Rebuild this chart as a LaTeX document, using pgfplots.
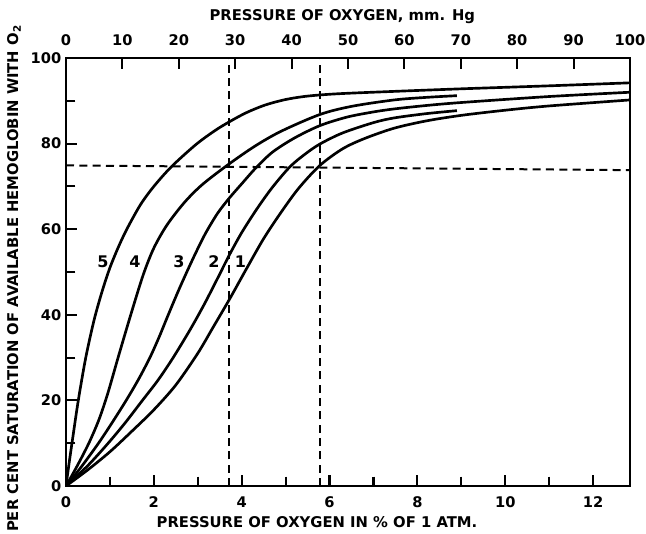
\documentclass[border=0pt]{standalone}
\usepackage{fontspec}
\setmainfont{DejaVu Sans}
\usepackage{pgfplots}
\pgfplotsset{compat=1.18}

\begin{document}
\begin{tikzpicture}
\begin{axis}[
    scale only axis, width=423pt, height=321pt,
    xmin=0, xmax=12.84, ymin=0, ymax=100,
    xtick={0,2,...,12}, minor xtick={1,3,...,11},
    ytick={0,20,...,100}, minor ytick={10,30,...,90},
    xtick pos=left, ytick pos=left, tick align=outside,
    major tick length=-8pt, minor tick length=-7pt,
    tick style={line width=1.6pt,black},
    axis line style={line width=1.8pt},
    /pgf/number format/assume math mode=true,
    ticklabel style={font=\bfseries\fontsize{11}{13}\selectfont},
    xticklabel style={anchor=center,yshift=-20pt},
    yticklabel style={anchor=east,xshift=-8pt},
    xlabel={PRESSURE OF OXYGEN IN \% OF 1 ATM.},
    ylabel={PER CENT SATURATION OF AVAILABLE HEMOGLOBIN WITH O\textsubscript{2}},
    label style={font=\bfseries\fontsize{11.1}{13}\selectfont},
    xlabel style={at={(axis description cs:0.445,-0.084)},anchor=center},
    ylabel style={at={(axis description cs:-0.0922,0.485)},anchor=center},
    clip=true,
]
  % reference lines
  \addplot[black,line width=1.5pt,dash pattern=on 6pt off 4pt] coordinates {(3.72,0) (3.72,100)};
  \addplot[black,line width=1.5pt,dash pattern=on 6pt off 4pt] coordinates {(5.78,0) (5.78,100)};
  \addplot[black,line width=1.5pt,dash pattern=on 6pt off 4pt] coordinates {(0,74.9) (12.84,73.8)};

  % curve 5
  \addplot[black,line width=2pt,smooth] coordinates {
    (0,0) (0.08,6) (0.15,11) (0.28,20) (0.45,30) (0.64,38.8) (0.82,45.4) (1.0,51)
    (1.2,56) (1.4,60.3) (1.7,65.8) (2.0,70.0) (2.4,74.6) (2.96,79.8) (3.4,83.1) (3.72,85.1)
    (4.1,87.2) (4.53,89.0) (5.0,90.3) (5.5,91.1) (6.2,91.65) (7.47,92.2) (9,92.8)
    (11,93.5) (12.84,94.2)};
  % curve 4
  \addplot[black,line width=2pt,smooth] coordinates {
    (0,0) (0.25,4.6) (0.52,10) (0.75,15.5) (0.95,21.6) (1.2,30.5) (1.48,40.2) (1.76,49.4)
    (2.0,55.6) (2.3,61.0) (2.7,66.3) (3.1,70.4) (3.68,75.0) (4.3,79.4) (4.9,82.9)
    (5.78,86.8) (6.5,88.7) (7.47,90.2) (8.2,90.8) (8.9,91.2)};
  % curve 3
  \addplot[black,line width=2pt,smooth] coordinates {
    (0,0) (0.35,4.5) (0.74,10) (1.05,14.8) (1.37,20) (1.65,24.9) (1.91,30) (2.12,34.8)
    (2.32,39.8) (2.55,45.4) (2.75,50) (2.95,54.4) (3.18,59.1) (3.45,63.7) (3.72,67.3)
    (4.0,70.6) (4.32,74.3) (4.7,78.0) (5.2,81.3) (5.78,84.2) (6.4,86.2) (7.0,87.4)
    (7.47,88.1) (8.2,88.9) (9,89.6) (11,91.0) (12.84,92.0)};
  % curve 2
  \addplot[black,line width=2pt,smooth] coordinates {
    (0,0) (0.5,4.8) (0.96,10) (1.35,14.8) (1.74,20) (2.1,24.8) (2.44,30) (2.83,36.6)
    (3.15,42.5) (3.45,48.5) (3.72,54.0) (4.0,59.2) (4.35,64.8) (4.70,69.8) (5.1,74.6)
    (5.45,77.6) (5.78,79.9) (6.3,82.5) (7.0,84.9) (7.47,86.0) (8.2,87.0) (8.9,87.7)};
  % curve 1
  \addplot[black,line width=2pt,smooth] coordinates {
    (0,0) (0.5,3.8) (1.0,8.0) (1.5,12.8) (2.0,17.8) (2.5,23.6) (3.0,31.0) (3.35,37.1)
    (3.72,43.6) (4.1,50.6) (4.5,57.8) (4.9,64.0) (5.3,69.6) (5.78,74.9) (6.3,78.8)
    (6.8,81.2) (7.47,83.6) (8.2,85.3) (9.0,86.6) (10,87.8) (11,88.8) (12.84,90.2)};

  % curve numbers
  \begin{scope}[every node/.style={font=\bfseries\fontsize{12}{14}\selectfont,inner sep=0pt}]
    \node at (axis cs:0.84,52.5) {5};
    \node at (axis cs:1.57,52.5) {4};
    \node at (axis cs:2.57,52.5) {3};
    \node at (axis cs:3.37,52.5) {2};
    \node at (axis cs:3.97,52.5) {1};
  \end{scope}
\end{axis}

% top scale in mm Hg
\begin{axis}[
    scale only axis, width=423pt, height=321pt,
    xmin=0, xmax=100, ymin=0, ymax=100,
    axis x line*=top, axis y line=none,
    xtick={0,10,...,100}, tick align=outside,
    major tick length=-8pt,
    tick style={line width=1.6pt,black},
    axis line style={line width=1.8pt},
    /pgf/number format/assume math mode=true,
    ticklabel style={font=\bfseries\fontsize{11}{13}\selectfont},
    xticklabel style={anchor=center,yshift=21.5pt},
    xlabel={PRESSURE OF OXYGEN, mm. Hg},
    label style={font=\bfseries\fontsize{11.1}{13}\selectfont},
    xlabel style={at={(axis description cs:0.49,1.0958)},anchor=center},
]
\end{axis}
\pgfresetboundingbox
\path (-49.5pt,-35.25pt) rectangle (435pt,364.5pt);
\end{tikzpicture}
\end{document}
